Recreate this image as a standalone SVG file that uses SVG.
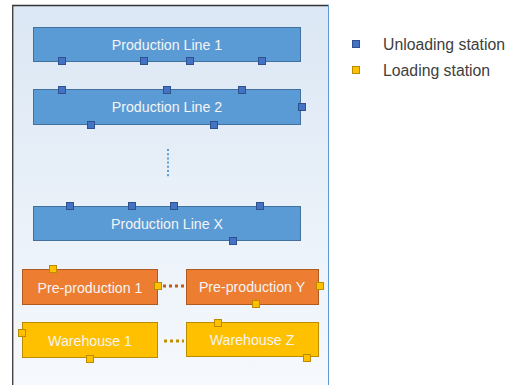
<svg xmlns="http://www.w3.org/2000/svg" width="514" height="385" viewBox="0 0 514 385">
  <defs>
    <linearGradient id="panelFill" x1="0" y1="0" x2="0" y2="1">
      <stop offset="0" stop-color="#dbe7f4"/>
      <stop offset="1" stop-color="#f6f9fd"/>
    </linearGradient>
    <style>
      .line { fill: #5b9bd5; stroke: #41719c; stroke-width: 1; }
      .pre { fill: #ed7d31; stroke: #ae5a21; stroke-width: 1; }
      .wh { fill: #ffc000; stroke: #bc8c00; stroke-width: 1; }
      .unload { fill: #4472c4; stroke: #2f528f; stroke-width: 1; }
      .load { fill: #ffc000; stroke: #bc8c00; stroke-width: 1; }
      .label { font-family: "Liberation Sans", Arial, sans-serif; font-size: 14.2px; fill: #f4f4f4; text-anchor: middle; }
      .legend { font-family: "Liberation Sans", Arial, sans-serif; font-size: 15.8px; fill: #404040; }
    </style>
  </defs>

  <rect width="514" height="385" fill="#ffffff"/>

  <!-- panel -->
  <rect x="12.5" y="5.5" width="316" height="380" fill="url(#panelFill)"/>
  <line x1="12" y1="5.5" x2="329" y2="5.5" stroke="#333333" stroke-width="1.3"/>
  <line x1="12.7" y1="5" x2="12.7" y2="385" stroke="#444444" stroke-width="1.4"/>
  <line x1="328.5" y1="5" x2="328.5" y2="385" stroke="#5b9bd5" stroke-width="1"/>

  <!-- production lines -->
  <g id="line1">
    <rect class="line" x="33.5" y="27.5" width="267" height="34"/>
    <text class="label" x="167" y="49.5">Production Line 1</text>
  </g>
  <g id="line2">
    <rect class="line" x="33.5" y="89.5" width="267" height="35"/>
    <text class="label" x="167" y="111.5">Production Line 2</text>
  </g>
  <g id="lineX">
    <rect class="line" x="33.5" y="206.5" width="267" height="34"/>
    <text class="label" x="167" y="228.5">Production Line X</text>
  </g>

  <!-- pre-production and warehouses -->
  <g id="pre1">
    <rect class="pre" x="22.5" y="269.5" width="135" height="35"/>
    <text class="label" x="90" y="292.5">Pre-production 1</text>
  </g>
  <g id="preY">
    <rect class="pre" x="186.5" y="269.5" width="132" height="35"/>
    <text class="label" x="252" y="291.5">Pre-production Y</text>
  </g>
  <g id="wh1">
    <rect class="wh" x="22.5" y="322.5" width="135" height="35"/>
    <text class="label" x="90" y="345.5">Warehouse 1</text>
  </g>
  <g id="whZ">
    <rect class="wh" x="186.5" y="322.5" width="132" height="34"/>
    <text class="label" x="252" y="344.5">Warehouse Z</text>
  </g>

  <!-- continuation dots -->
  <g id="connectors">
    <line x1="168" y1="149" x2="168" y2="178" stroke="#5b9bd5" stroke-width="2" stroke-dasharray="2 2.2"/>
    <line x1="163" y1="286" x2="184" y2="286" stroke="#c55a11" stroke-width="3" stroke-dasharray="3 3"/>
    <line x1="164" y1="341" x2="184" y2="341" stroke="#bf9000" stroke-width="3" stroke-dasharray="3 3"/>
  </g>

  <!-- unloading stations -->
  <g id="unloading">
    <rect class="unload" x="58.5" y="57.5" width="7" height="7"/>
    <rect class="unload" x="140.5" y="57.5" width="7" height="7"/>
    <rect class="unload" x="186.5" y="57.5" width="7" height="7"/>
    <rect class="unload" x="258.5" y="57.5" width="7" height="7"/>

    <rect class="unload" x="58.5" y="86.5" width="7" height="7"/>
    <rect class="unload" x="163.5" y="86.5" width="7" height="7"/>
    <rect class="unload" x="238.5" y="86.5" width="7" height="7"/>
    <rect class="unload" x="298.5" y="103.5" width="7" height="7"/>
    <rect class="unload" x="87.5" y="121.5" width="7" height="7"/>
    <rect class="unload" x="210.5" y="121.5" width="7" height="7"/>

    <rect class="unload" x="66.5" y="202.5" width="7" height="7"/>
    <rect class="unload" x="128.5" y="202.5" width="7" height="7"/>
    <rect class="unload" x="170.5" y="202.5" width="7" height="7"/>
    <rect class="unload" x="256.5" y="202.5" width="7" height="7"/>
    <rect class="unload" x="229.5" y="237.5" width="7" height="7"/>
  </g>

  <!-- loading stations -->
  <g id="loading">
    <rect class="load" x="49.5" y="265.5" width="7" height="7"/>
    <rect class="load" x="154.5" y="282.5" width="7" height="7"/>
    <rect class="load" x="316.5" y="282.5" width="7" height="7"/>
    <rect class="load" x="252.5" y="300.5" width="7" height="7"/>
    <rect class="load" x="18.5" y="329.5" width="7" height="7"/>
    <rect class="load" x="86.5" y="355.5" width="7" height="7"/>
    <rect class="load" x="214.5" y="319.5" width="7" height="7"/>
    <rect class="load" x="303.5" y="354.5" width="7" height="7"/>
  </g>

  <!-- legend -->
  <g id="legend">
    <rect class="unload" x="352.5" y="40.5" width="7" height="7"/>
    <text class="legend" x="383" y="49.5">Unloading station</text>
    <rect class="load" x="352.5" y="66.5" width="7" height="7"/>
    <text class="legend" x="383" y="75.5">Loading station</text>
  </g>
</svg>
